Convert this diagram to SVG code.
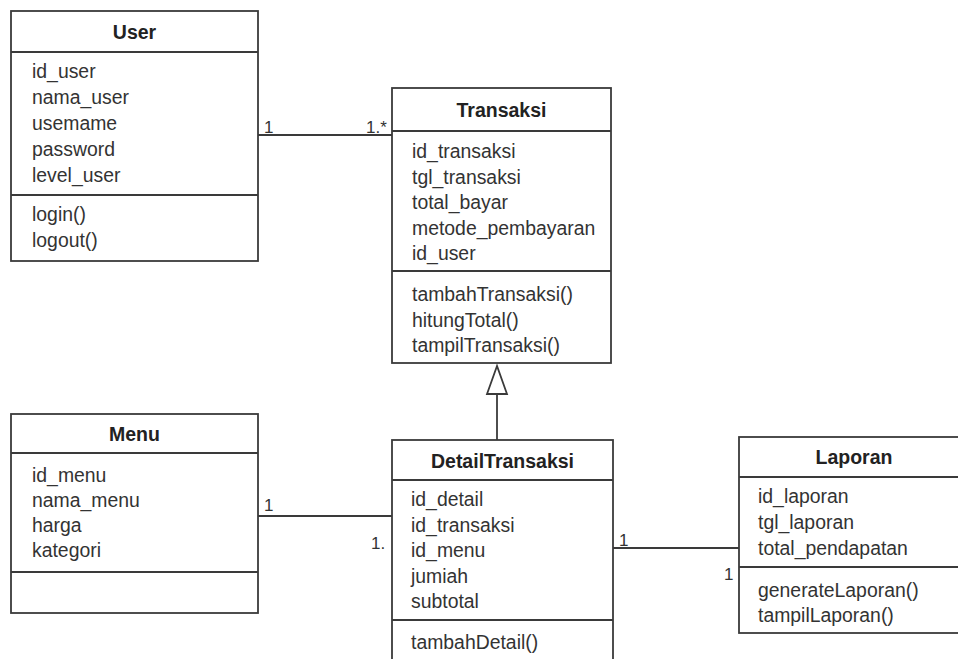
<svg xmlns="http://www.w3.org/2000/svg" width="958" height="659" viewBox="0 0 958 659">
<style>
.box{fill:#fff;stroke:#3a3a3a;stroke-width:1.8}
.div{stroke:#3a3a3a;stroke-width:1.8}
.t{font-family:"Liberation Sans",Arial,sans-serif;font-size:19.4px;fill:#333}
.h{font-family:"Liberation Sans",Arial,sans-serif;font-size:19.5px;font-weight:bold;fill:#222;text-anchor:middle}
.m{font-family:"Liberation Sans",Arial,sans-serif;font-size:17px;fill:#333}
.c{stroke:#3a3a3a;stroke-width:1.8;fill:none}
</style>
<rect width="958" height="659" fill="#fff"/>
<g id="connectors">
<line class="c" x1="258" y1="135" x2="392" y2="135"/>
<line class="c" x1="258" y1="516" x2="392" y2="516"/>
<line class="c" x1="613" y1="548" x2="739" y2="548"/>
<line class="c" x1="497" y1="394" x2="497" y2="440"/>
<polygon points="497,366 487,394 507,394" fill="#fff" stroke="#3a3a3a" stroke-width="1.8"/>
<text class="m" x="264" y="133">1</text>
<text class="m" x="366" y="133">1.*</text>
<text class="m" x="264" y="511">1</text>
<text class="m" x="371" y="549">1.</text>
<text class="m" x="619" y="546">1</text>
<text class="m" x="724" y="580">1</text>
</g>
<g id="User">
<rect class="box" x="11" y="11" width="247" height="250"/>
<line class="div" x1="11" y1="52" x2="258" y2="52"/>
<line class="div" x1="11" y1="195" x2="258" y2="195"/>
<text class="h" x="134.5" y="39">User</text>
<text class="t" x="32" y="78">id_user</text>
<text class="t" x="32" y="104">nama_user</text>
<text class="t" x="32" y="130">usemame</text>
<text class="t" x="32" y="156">password</text>
<text class="t" x="32" y="182">level_user</text>
<text class="t" x="32" y="221">login()</text>
<text class="t" x="32" y="247">logout()</text>
</g>
<g id="Transaksi">
<rect class="box" x="392" y="88" width="219" height="275"/>
<line class="div" x1="392" y1="131" x2="611" y2="131"/>
<line class="div" x1="392" y1="271" x2="611" y2="271"/>
<text class="h" x="501.5" y="117">Transaksi</text>
<text class="t" x="412" y="158">id_transaksi</text>
<text class="t" x="412" y="183.5">tgl_transaksi</text>
<text class="t" x="412" y="209">total_bayar</text>
<text class="t" x="412" y="234.5">metode_pembayaran</text>
<text class="t" x="412" y="260">id_user</text>
<text class="t" x="412" y="301">tambahTransaksi()</text>
<text class="t" x="412" y="326.5">hitungTotal()</text>
<text class="t" x="412" y="352">tampilTransaksi()</text>
</g>
<g id="Menu">
<rect class="box" x="11" y="414" width="247" height="199"/>
<line class="div" x1="11" y1="453" x2="258" y2="453"/>
<line class="div" x1="11" y1="572" x2="258" y2="572"/>
<text class="h" x="134.5" y="441">Menu</text>
<text class="t" x="32" y="482">id_menu</text>
<text class="t" x="32" y="507">nama_menu</text>
<text class="t" x="32" y="532">harga</text>
<text class="t" x="32" y="557">kategori</text>
</g>
<g id="DetailTransaksi">
<rect class="box" x="392" y="440" width="221" height="240"/>
<line class="div" x1="392" y1="480" x2="613" y2="480"/>
<line class="div" x1="392" y1="620" x2="613" y2="620"/>
<text class="h" x="502.5" y="468">DetailTransaksi</text>
<text class="t" x="411" y="506">id_detail</text>
<text class="t" x="411" y="531.5">id_transaksi</text>
<text class="t" x="411" y="557">id_menu</text>
<text class="t" x="411" y="582.5">jumiah</text>
<text class="t" x="411" y="608">subtotal</text>
<text class="t" x="411" y="649">tambahDetail()</text>
</g>
<g id="Laporan">
<rect class="box" x="739" y="437" width="232" height="196"/>
<line class="div" x1="739" y1="477" x2="971" y2="477"/>
<line class="div" x1="739" y1="567" x2="971" y2="567"/>
<text class="h" x="854" y="464">Laporan</text>
<text class="t" x="758" y="503">id_laporan</text>
<text class="t" x="758" y="529">tgl_laporan</text>
<text class="t" x="758" y="555">total_pendapatan</text>
<text class="t" x="758" y="597">generateLaporan()</text>
<text class="t" x="758" y="622">tampilLaporan()</text>
</g>
</svg>
